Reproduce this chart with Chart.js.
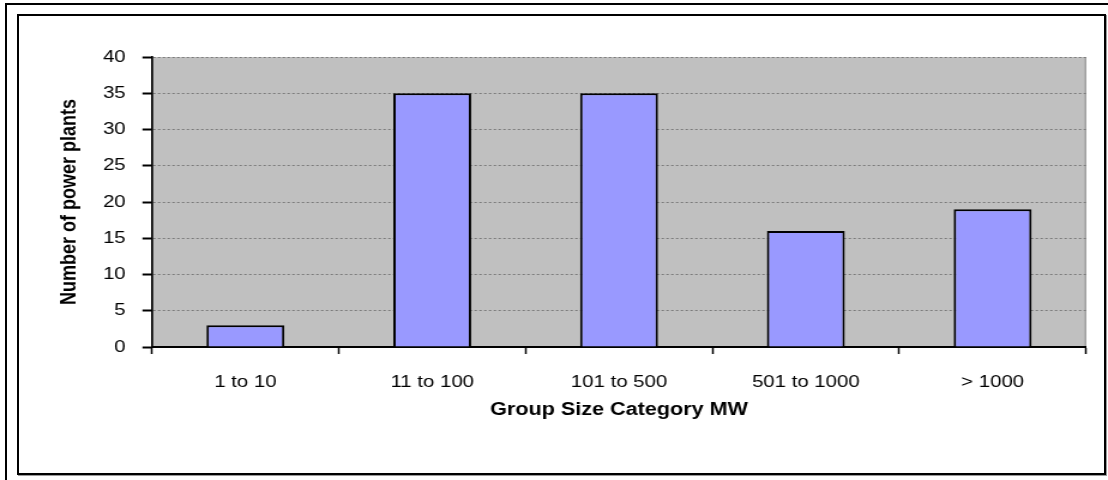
<!DOCTYPE html>
<html>
<head>
<meta charset="utf-8">
<script src="https://cdn.jsdelivr.net/npm/chart.js@4.4.1/dist/chart.umd.min.js"></script>
<style>
  html, body { margin: 0; padding: 0; background: #fff; }
  body { width: 1108px; height: 480px; position: relative; overflow: hidden; }
  .frame-outer { position: absolute; left: 5px; top: 3px; width: 1200px; height: 600px;
                 box-sizing: border-box; border: 2px solid #000; }
  .frame-inner { position: absolute; left: 17px; top: 14px; width: 1089px; height: 461px;
                 box-sizing: border-box; border: 2px solid #000; box-shadow: 1px 1px 0 #9a9a9a; background: #fff; }
  #wrap { position: absolute; left: 0; top: 0; width: 924px; height: 480px;
          transform-origin: 0 0; transform: scaleX(1.1991); }
  canvas { display: block; }
</style>
</head>
<body>
<div class="frame-outer"></div>
<div class="frame-inner"></div>
<div id="wrap"><canvas id="chart" width="924" height="480" style="width:924px;height:480px"></canvas></div>
<script>
// Power plants per group size category
const categories = ['1 to 10', '11 to 100', '101 to 500', '501 to 1000', '> 1000'];
const plantCounts = [3, 35, 35, 16, 19];
const yTickValues = [0, 5, 10, 15, 20, 25, 30, 35, 40];

const xTitle = 'Group Size Category MW';
const yTitle = 'Number of power plants';

const FONT = "'Liberation Sans', Arial, sans-serif";

// grey plot area with a thin edge on the right
const plotBackground = {
  id: 'plotBackground',
  beforeDraw(chart) {
    const { ctx, chartArea: { left, top, right, bottom } } = chart;
    ctx.save();
    ctx.fillStyle = '#C0C0C0';
    ctx.fillRect(left, top, right - left, bottom - top);
    ctx.strokeStyle = '#8a8a8a';
    ctx.lineWidth = 1;
    ctx.beginPath();
    ctx.moveTo(right - 0.5, top);
    ctx.lineTo(right - 0.5, bottom);
    ctx.stroke();
    ctx.restore();
  }
};

new Chart(document.getElementById('chart'), {
  type: 'bar',
  data: {
    labels: categories,
    datasets: [{
      data: plantCounts,
      backgroundColor: '#9999FF',
      borderColor: '#000000',
      borderWidth: 2,
      borderSkipped: 'bottom',
      categoryPercentage: 1,
      barPercentage: 0.417
    }]
  },
  options: {
    responsive: false,
    animation: false,
    devicePixelRatio: 1,
    layout: { padding: { left: 40, top: 57, right: 18.3, bottom: 0 } },
    plugins: {
      legend: { display: false },
      tooltip: { enabled: false }
    },
    scales: {
      x: {
        afterFit(scale) { scale.height = 133; },
        grid: {
          offset: true,
          drawOnChartArea: false,
          tickLength: 7,
          tickColor: '#000',
          tickWidth: 1.5
        },
        border: { display: true, color: '#000', width: 2 },
        ticks: {
          color: '#000',
          padding: 18,
          maxRotation: 0,
          font: { family: FONT, size: 17 }
        },
        title: {
          display: true,
          text: xTitle,
          color: '#000',
          padding: { top: 0, bottom: 59 },
          font: { family: FONT, size: 18, weight: 'bold' }
        }
      },
      y: {
        min: yTickValues[0],
        max: yTickValues[yTickValues.length - 1],
        afterFit(scale) { scale.width = 86.8; },
        afterBuildTicks(scale) { scale.ticks = yTickValues.map(v => ({ value: v })); },
        grid: {
          color: '#7a7a7a',
          lineWidth: 1,
          tickLength: 8,
          tickColor: '#000',
          tickWidth: 2,
          tickBorderDash: []
        },
        border: { display: true, color: '#000', width: 1.7, dash: [2, 2] },
        ticks: {
          color: '#000',
          padding: 14,
          font: { family: FONT, size: 17 }
        },
        title: {
          display: true,
          text: yTitle,
          color: '#000',
          padding: { top: 7, bottom: 0 },
          font: { family: FONT, size: 18, weight: 'bold' }
        }
      }
    }
  },
  plugins: [plotBackground]
});
</script>
</body>
</html>
